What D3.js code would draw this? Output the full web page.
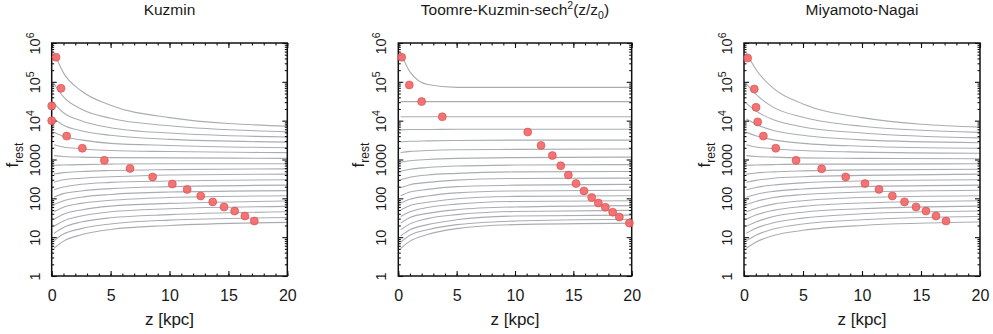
<!DOCTYPE html>
<html><head><meta charset="utf-8">
<script src="https://cdn.jsdelivr.net/npm/d3@7"></script>
<style>
body{margin:0;background:#fff}
svg{display:block}
text{font-family:"Liberation Sans",Arial,Helvetica,sans-serif;fill:#1a1a1a}
</style>
</head><body>
<svg id="c" width="993" height="334"></svg>
<script>
// z positions (kpc) at which each curve's f_rest value was read
const zAnchors = [0.2, 1, 2.5, 5, 10, 20];

const kuzminCurves = [
  [5.6e5,1.7e5,5.9e4,2.5e4,1.2e4,7.2e3],
  [8.9e4,4.1e4,2.0e4,1.15e4,7.4e3,5.2e3],
  [2.8e4,1.6e4,1.0e4,6.6e3,4.8e3,3.8e3],
  [1.1e4,7.6e3,5.5e3,4.2e3,3.3e3,2.8e3],
  [5.0e3,3.9e3,3.2e3,2.6e3,2.3e3,2.0e3],
  [2.4e3,2.1e3,1.9e3,1.7e3,1.6e3,1.5e3],
  [1260,1200,1150,1120,1100,1070],
  [710,720,740,760,780,780],
  [420,460,490,520,550,575],
  [260,300,330,360,400,420],
  [166,195,230,257,280,300],
  [107,132,155,178,200,219],
  [69,87,107,126,145,158],
  [45,59,74,89,105,117],
  [29,39,50,63,74,85],
  [19,26,35,45,54,62],
  [12.6,17.8,24.5,31.6,38,45],
  [8.1,12,16.6,21.9,27.5,32],
  [5.2,7.9,11.5,15.8,20,24]
];
const kuzminPointsZ = [0.37,0.79,0,0,1.27,2.6,4.47,6.65,8.57,10.24,11.5,12.65,13.67,14.63,15.53,16.4,17.2];
const kuzminPointsF = [4.3e5,6.8e4,2.4e4,1.0e4,4.0e3,1.95e3,950,590,355,234,170,115,81,60,47,35,26];

const toomreCurves = [
  [5.6e5,1.8e5,8.5e4,7.2e4,7.2e4,7.2e4],
  [3.1e4,3.1e4,3.1e4,3.1e4,3.1e4,3.1e4],
  [1.26e4,1.26e4,1.26e4,1.26e4,1.26e4,1.26e4],
  [5800,5900,5900,6000,6000,6000],
  [2820,2950,3020,3090,3160,3160],
  [1510,1620,1700,1780,1820,1860],
  [850,930,1000,1070,1120,1150],
  [500,560,620,680,720,740],
  [300,350,400,440,480,490],
  [186,224,257,295,324,331],
  [117,145,170,200,219,229],
  [76,95,115,138,155,162],
  [50,65,79,98,112,117],
  [34,45,58,71,83,87],
  [23,32,41,51,60,65],
  [15.5,22,30,38,46,49],
  [10.7,15.5,21,28,35,37],
  [7.4,11.2,15.5,21,26,29],
  [5.1,7.9,11.7,16.6,21,23]
];
const toomrePointsZ = [0.29,0.94,2.0,3.77,11.09,12.23,13.2,13.92,14.57,15.23,15.91,16.57,17.14,17.74,18.37,18.94,19.8];
const toomrePointsF = [4.3e5,8.3e4,3.1e4,1.26e4,5.1e3,2.3e3,1260,690,400,240,155,105,76,59,44,33,23];

const miyamotoCurves = [
  [5.6e5,2.1e5,6.8e4,2.7e4,1.2e4,6.8e3],
  [8.9e4,4.8e4,2.2e4,1.23e4,7.2e3,5.0e3],
  [2.8e4,1.8e4,1.05e4,6.9e3,4.8e3,3.6e3],
  [1.1e4,8.1e3,5.6e3,4.2e3,3.2e3,2.7e3],
  [5.0e3,4.1e3,3.2e3,2.6e3,2.2e3,1.95e3],
  [2.4e3,2.1e3,1.9e3,1.7e3,1.55e3,1.45e3],
  [1260,1200,1150,1100,1070,1050],
  [710,720,740,760,760,780],
  [420,450,480,510,540,560],
  [260,290,330,360,390,420],
  [166,190,220,250,280,300],
  [107,126,151,174,200,219],
  [69,83,105,126,145,162],
  [45,55,71,87,105,117],
  [29,37,49,62,76,87],
  [19,24.5,34,44,54,63],
  [12.6,17,23.4,31,40,47],
  [8.1,11.2,16.2,21.9,28,34],
  [5.2,7.4,11,15,20,24.5]
];
const miyamotoPointsZ = [0.31,0.87,1.02,1.16,1.64,2.69,4.41,6.58,8.62,10.25,11.44,12.57,13.6,14.58,15.42,16.27,17.12];
const miyamotoPointsF = [4.1e5,6.5e4,2.2e4,9.3e3,4.0e3,1.95e3,950,575,355,240,170,115,81,60,47,35,26];

const xMajorTicks = [0,5,10,15,20];
const xMinorTicks = d3.range(0,21,1);
const yMajorTicks = [1,10,100,1000,1e4,1e5,1e6];
const yTickLabels = [["1",""],["10",""],["100",""],["1000",""],["10","4"],["10","5"],["10","6"]];
const yMinorTicks = [];
[1,10,100,1000,1e4,1e5].forEach(d => { for (let k=2;k<=9;k++) yMinorTicks.push(d*k); });

const panels = [
  {id:"k", title:[["Kuzmin",""]], curves:kuzminCurves, pz:kuzminPointsZ, pf:kuzminPointsF, x0:51.7, x1:287.3},
  {id:"t", title:[["Toomre-Kuzmin-sech",""],["2","sup"],["(z/z",""],["0","sub"],[")",""]], curves:toomreCurves, pz:toomrePointsZ, pf:toomrePointsF, x0:398.3, x1:631.7},
  {id:"m", title:[["Miyamoto-Nagai",""]], curves:miyamotoCurves, pz:miyamotoPointsZ, pf:miyamotoPointsF, x0:744, x1:980}
];

const Y0 = 43, Y1 = 276;
const svg = d3.select("#c");

panels.forEach(p => {
  const x = d3.scaleLinear().domain([0,20]).range([p.x0,p.x1]);
  const y = d3.scaleLog().domain([1,1e6]).range([Y1,Y0]);
  const g = svg.append("g");

  g.append("clipPath").attr("id","clip-"+p.id)
    .append("rect").attr("x",p.x0).attr("y",Y0).attr("width",p.x1-p.x0).attr("height",Y1-Y0);

  // curves
  const line = d3.line().x((d,i)=>x(zAnchors[i])).y(d=>y(d)).curve(d3.curveMonotoneX);
  g.append("g").attr("clip-path","url(#clip-"+p.id+")")
    .selectAll("path").data(p.curves).join("path")
    .attr("d", line)
    .attr("fill","none")
    .attr("stroke","#a9adb3")
    .attr("stroke-width",1.1);

  // axes (ticks inward on all four sides)
  const fontX = 16, fontY = 14.5;
  const bottom = g.append("g").attr("transform",`translate(0,${Y1})`)
    .call(d3.axisBottom(x).tickValues(xMajorTicks).tickSize(-5).tickFormat(d3.format("d")));
  g.append("g").attr("transform",`translate(0,${Y1})`)
    .call(d3.axisBottom(x).tickValues(xMinorTicks).tickSize(-2.5).tickFormat(""));
  g.append("g").attr("transform",`translate(0,${Y0})`)
    .call(d3.axisTop(x).tickValues(xMajorTicks).tickSize(-5).tickFormat(""));
  g.append("g").attr("transform",`translate(0,${Y0})`)
    .call(d3.axisTop(x).tickValues(xMinorTicks).tickSize(-2.5).tickFormat(""));
  const left = g.append("g").attr("transform",`translate(${p.x0},0)`)
    .call(d3.axisLeft(y).tickValues(yMajorTicks).tickSize(-5).tickFormat((d,i)=>yTickLabels[i][0]));
  g.append("g").attr("transform",`translate(${p.x0},0)`)
    .call(d3.axisLeft(y).tickValues(yMinorTicks).tickSize(-2.5).tickFormat(""));
  g.append("g").attr("transform",`translate(${p.x1},0)`)
    .call(d3.axisRight(y).tickValues(yMajorTicks).tickSize(-5).tickFormat(""));
  g.append("g").attr("transform",`translate(${p.x1},0)`)
    .call(d3.axisRight(y).tickValues(yMinorTicks).tickSize(-2.5).tickFormat(""));

  g.selectAll(".domain").remove();
  g.selectAll(".tick line").attr("stroke","#111").attr("stroke-width",1.1);

  bottom.selectAll("text")
    .attr("font-size",fontX).attr("font-family",null).attr("fill","#1a1a1a")
    .attr("y",25).attr("dy",0);

  left.selectAll("text").each(function(d,i){
    const t = d3.select(this);
    t.text(null)
      .attr("font-size",fontY).attr("font-family",null).attr("fill","#1a1a1a")
      .attr("text-anchor","middle")
      .attr("transform","rotate(-90)")
      .attr("x",0).attr("y",-12).attr("dy",0);
    const lab = yTickLabels[i];
    t.append("tspan").text(lab[0]);
    if (lab[1]) t.append("tspan").attr("font-size",10.5).attr("dy",-6).text(lab[1]);
  });

  // frame
  g.append("rect").attr("x",p.x0).attr("y",Y0).attr("width",p.x1-p.x0).attr("height",Y1-Y0)
    .attr("fill","none").attr("stroke","#111").attr("stroke-width",1.5);

  // points
  g.append("g").selectAll("circle").data(p.pz).join("circle")
    .attr("cx",d=>x(d)).attr("cy",(d,i)=>y(p.pf[i]))
    .attr("r",4)
    .attr("fill","#f26868")
    .attr("fill-opacity",0.92)
    .attr("stroke","#d84a4a").attr("stroke-width",0.6);

  // title
  const cx = (p.x0+p.x1)/2;
  const tt = g.append("text").attr("x",cx).attr("y",15).attr("text-anchor","middle").attr("font-size",15.5);
  p.title.forEach((s,i) => {
    const ts = tt.append("tspan").text(s[0]);
    const prev = i>0 ? p.title[i-1][1] : "";
    let dy = 0;
    if (s[1]==="sup") { ts.attr("font-size",10.5); dy = -6; }
    else if (s[1]==="sub") { ts.attr("font-size",10.5); dy = 4; }
    if (prev==="sup") dy += 6; else if (prev==="sub") dy -= 4;
    ts.attr("dy", dy);
  });

  // x axis label
  g.append("text").attr("x",cx).attr("y",325).attr("text-anchor","middle").attr("font-size",17)
    .text("z [kpc]");

  // y axis label
  const yl = g.append("text").attr("transform",`translate(${p.x0-34},155) rotate(-90)`)
    .attr("text-anchor","middle").attr("font-size",17);
  yl.append("tspan").text("f");
  yl.append("tspan").attr("font-size",12).attr("dy",5).text("rest");
});
</script>
</body></html>
